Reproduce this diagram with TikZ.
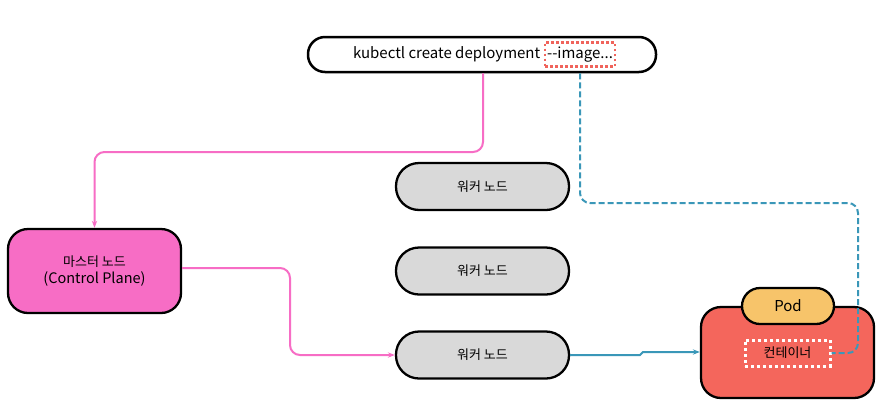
\documentclass[tikz,border=0pt]{standalone}
\usepackage{fontspec}
\setmainfont{Noto Sans CJK KR}
\usetikzlibrary{arrows.meta,positioning,calc}
\definecolor{masterpink}{HTML}{F76DC5}
\definecolor{nodegray}{HTML}{D9D9D9}
\definecolor{podred}{HTML}{F4665C}
\definecolor{podorange}{HTML}{F7C46A}
\definecolor{linkblue}{HTML}{3A97B8}
\definecolor{tagred}{HTML}{F0645C}

\begin{document}
\begin{tikzpicture}[x=1pt, y=-1pt,
  font=\fontsize{13}{17}\selectfont,
  latin/.style={font=\fontsize{15}{19}\selectfont},
  cmdbox/.style={draw, line width=2.5pt, rounded corners=17pt, minimum width=348pt, minimum height=35pt},
  imgtag/.style={draw=tagred, line width=2.5pt, dash pattern=on 2.5pt off 2.5pt, inner sep=2pt, minimum height=24pt, latin},
  master/.style={draw, line width=2.3pt, fill=masterpink, rounded corners=20pt, minimum width=173pt, minimum height=84pt, align=center},
  worker/.style={draw, line width=2.3pt, fill=nodegray, rounded corners=23pt, minimum width=173pt, minimum height=47pt},
  podbody/.style={draw, line width=2.3pt, fill=podred, rounded corners=20pt, minimum width=173pt, minimum height=91pt},
  podtag/.style={draw, line width=2.3pt, fill=podorange, rounded corners=18pt, minimum width=92pt, minimum height=36pt, latin},
  ctrbox/.style={draw=white, line width=3pt, dash pattern=on 3pt off 3pt, minimum width=85pt, minimum height=26pt},
  pinkarrow/.style={-{Stealth[length=7pt]}, masterpink, line width=2pt, rounded corners=10pt},
  bluearrow/.style={-{Stealth[length=7pt]}, linkblue, line width=2pt},
  bluedash/.style={linkblue, line width=2pt, dash pattern=on 6pt off 3pt, rounded corners=10pt}
]
\useasboundingbox[fill=white] (0,0) rectangle (883,416);

% command
\node[cmdbox] (cmd) at (482,54.5) {};
\node[imgtag] (img) at (580,54.5) {-{}-image...};
\node[left=0pt of img, latin] (cmdtxt) {kubectl create deployment};

% master node
\node[master] (master) at (94.5,271) {마스터 노드\\{\fontsize{14.5}{18}\selectfont (Control Plane)}};

% worker nodes
\node[worker] (w1) at (482.5,186.5) {워커 노드};
\node[worker] (w2) at (482.5,271) {워커 노드};
\node[worker] (w3) at (482.5,355) {워커 노드};

% pod
\node[podbody] (pod) at (787.5,352.5) {};
\node[podtag] (podtag) at (788,306) {Pod};
\node[ctrbox] (ctr) at (787.5,353) {컨테이너};

% bends
\coordinate (cmdbend) at (483,152);
\coordinate (mbend) at (290,268);
\coordinate (jog1) at (640,355);
\coordinate (jog2) at (643,352);
\coordinate (dashbend) at (858,203);

\draw[pinkarrow] (cmd.south -| cmdbend) -- (cmdbend) -| (master.north);
\draw[pinkarrow] (master.east |- mbend) -- (mbend) |- (w3.west);
\draw[bluearrow] (w3.east) -- (jog1) -- (jog2) -- (pod.west |- jog2);
\draw[bluedash] (img.south |- cmd.south) |- (dashbend) |- (ctr.east);
\end{tikzpicture}
\end{document}
